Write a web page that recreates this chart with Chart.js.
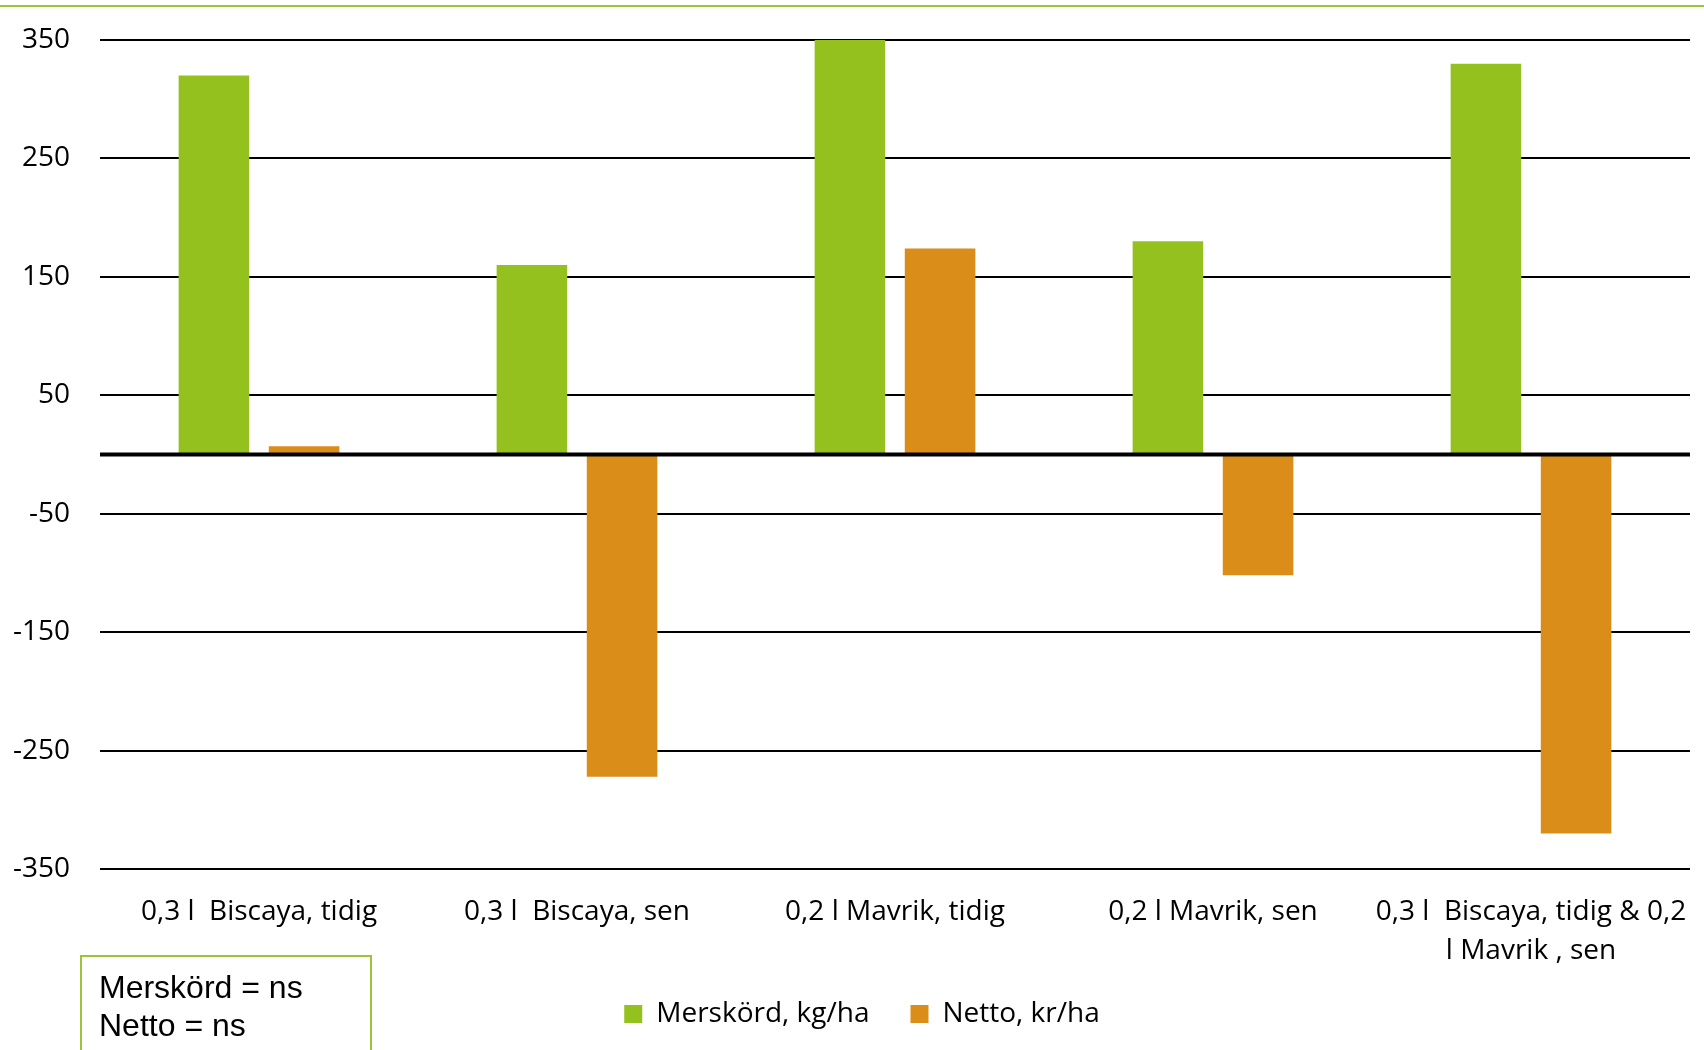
<!DOCTYPE html>
<html>
<head>
<meta charset="utf-8">
<script src="https://cdn.jsdelivr.net/npm/chart.js@4.4.1/dist/chart.umd.min.js"></script>
<style>
  html, body { margin: 0; padding: 0; background: #fff; }
  #wrap { position: relative; width: 1704px; height: 1050px; overflow: hidden; }
  #topline { position: absolute; left: 0; top: 5px; width: 1704px; height: 2px; background: #9cc43a; }
  #note {
    position: absolute; left: 80px; top: 955px; width: 292px; height: 120px;
    border: 2px solid #9cc43a; border-bottom: none; box-sizing: border-box;
    font-family: "Liberation Sans", Arial, sans-serif; font-size: 32px; line-height: 38px;
    padding: 11px 0 0 17px; color: #000;
  }
</style>
</head>
<body>
<div id="wrap">
  <canvas id="grafica" width="1704" height="1050"></canvas>
  <div id="topline"></div>
  <div id="note">Merskörd = ns<br>Netto = ns</div>
</div>
<script>
// Datos
const categorias = [
  '0,3 l  Biscaya, tidig',
  '0,3 l  Biscaya, sen',
  '0,2 l Mavrik, tidig',
  '0,2 l Mavrik, sen',
  ['0,3 l  Biscaya, tidig & 0,2', 'l Mavrik , sen']
];
const merskord = [320, 160, 350, 180, 330];
const netto = [7, -272, 174, -102, -320];
const yTicks = [350, 250, 150, 50, -50, -150, -250, -350];

const fuente = { family: '"Open Sans", Lato, sans-serif', size: 28 };

// Línea gruesa del cero, por encima de las barras
const lineaCero = {
  id: 'lineaCero',
  afterDatasetsDraw(chart) {
    const { ctx, chartArea, scales } = chart;
    const y = scales.y.getPixelForValue(0);
    ctx.save();
    ctx.strokeStyle = '#000';
    ctx.lineWidth = 4;
    ctx.beginPath();
    ctx.moveTo(chartArea.left, y);
    ctx.lineTo(chartArea.right, y);
    ctx.stroke();
    ctx.restore();
  }
};

// Mover un poco la leyenda (más a la derecha y más arriba, como en el original)
const ajusteLeyenda = {
  id: 'ajusteLeyenda',
  afterLayout(chart) {
    const l = chart.legend;
    l.left += 17; l.right += 17;
    l.top -= 12; l.bottom -= 12;
  }
};

const ctx = document.getElementById('grafica').getContext('2d');
new Chart(ctx, {
  type: 'bar',
  data: {
    labels: categorias,
    datasets: [
      { label: 'Merskörd, kg/ha', data: merskord, backgroundColor: '#95c11f' },
      { label: 'Netto, kr/ha', data: netto, backgroundColor: '#db8d1a' }
    ]
  },
  options: {
    responsive: false,
    animation: false,
    devicePixelRatio: 1,
    categoryPercentage: 0.567,
    barPercentage: 0.783,
    layout: { padding: { top: 40, right: 14, bottom: 0, left: 0 } },
    plugins: {
      legend: {
        position: 'bottom',
        labels: {
          font: fuente, color: '#000', boxWidth: 18, boxHeight: 18, padding: 41
        }
      },
      tooltip: { enabled: false }
    },
    scales: {
      x: {
        grid: { display: false, drawTicks: false },
        border: { display: false },
        ticks: {
          font: { ...fuente, lineHeight: 1.4 }, color: '#000', padding: 23,
          maxRotation: 0, minRotation: 0, autoSkip: false
        },
        afterFit(scale) {
          scale.height = 102;
          scale.paddingLeft = 0;
          scale.paddingRight = 0;
        }
      },
      y: {
        min: -350,
        max: 350,
        afterBuildTicks(scale) { scale.ticks = yTicks.map(v => ({ value: v })); },
        grid: { color: '#000', lineWidth: 2, drawTicks: false },
        border: { display: false },
        ticks: { font: fuente, color: '#000', padding: 30 },
        afterFit(scale) {
          scale.width = 100;
          scale.paddingTop = 0;
          scale.paddingBottom = 0;
        }
      }
    }
  },
  plugins: [lineaCero, ajusteLeyenda]
});
</script>
</body>
</html>
